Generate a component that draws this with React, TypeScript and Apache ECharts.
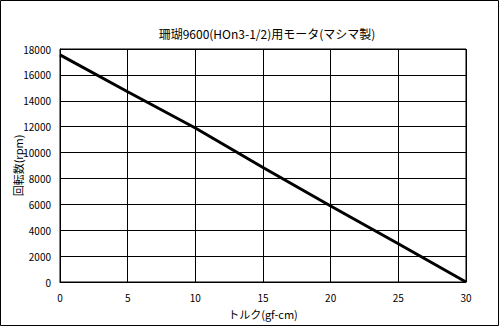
import React, { useEffect, useRef } from "react";
import * as echarts from "echarts";

const titleText = "珊瑚9600(HOn3-1/2)用モータ(マシマ製)";
const xAxisName = "トルク(gf-cm)";
const yAxisName = "回転数(rpm)";
const torque = [0, 5, 10, 15, 20, 25, 30];
const rpm = [17550, 14700, 11900, 8850, 5870, 2950, 0];

const FONT = "'Noto Sans CJK JP', sans-serif";

export default function App() {
  const ref = useRef<HTMLDivElement>(null);
  useEffect(() => {
    document.body.style.margin = "0";
    const chart = echarts.init(ref.current!, null, { renderer: "svg" });
    chart.setOption({
      animation: false,
      backgroundColor: "#fff",
      title: {
        text: titleText,
        left: 262,
        textAlign: "center",
        top: 22,
        textStyle: { fontFamily: FONT, fontSize: 12, fontWeight: "normal", color: "#000" },
      },
      graphic: [
        {
          type: "rect",
          shape: { x: 0.5, y: 0.5, width: 498, height: 325 },
          style: { fill: "none", stroke: "#000", lineWidth: 1 },
        },
      ],
      grid: {
        left: 60,
        top: 49,
        right: 34,
        bottom: 45,
        show: true,
        borderColor: "#000",
        borderWidth: 1,
        containLabel: false,
        outerBoundsMode: "none",
      },
      xAxis: {
        type: "value",
        min: 0,
        max: 30,
        interval: 5,
        name: xAxisName,
        nameLocation: "middle",
        nameGap: 26,
        nameMoveOverlap: false,
        nameTextStyle: { fontFamily: FONT, fontSize: 11, color: "#000" },
        axisLine: { show: true, lineStyle: { color: "#000", width: 1 } },
        axisTick: { show: false },
        axisLabel: { fontFamily: FONT, fontSize: 10, color: "#000", margin: 10 },
        splitLine: { show: true, lineStyle: { color: "#000", width: 1 } },
      },
      yAxis: {
        type: "value",
        min: 0,
        max: 18000,
        interval: 2000,
        name: yAxisName,
        nameLocation: "middle",
        nameGap: 37,
        nameRotate: 90,
        nameMoveOverlap: false,
        nameTextStyle: { fontFamily: FONT, fontSize: 11, color: "#000" },
        axisLine: { show: true, lineStyle: { color: "#000", width: 1 } },
        axisTick: { show: false },
        axisLabel: {
          fontFamily: FONT,
          fontSize: 10,
          color: "#000",
          margin: 9,
          formatter: (v: number) => String(v),
        },
        splitLine: { show: true, lineStyle: { color: "#000", width: 1 } },
      },
      series: [
        {
          type: "line",
          data: torque.map((t, i) => [t, rpm[i]]),
          showSymbol: false,
          lineStyle: { color: "#000", width: 3 },
        },
      ],
    });
    return () => chart.dispose();
  }, []);
  return <div ref={ref} style={{ width: 500, height: 327 }} />;
}
